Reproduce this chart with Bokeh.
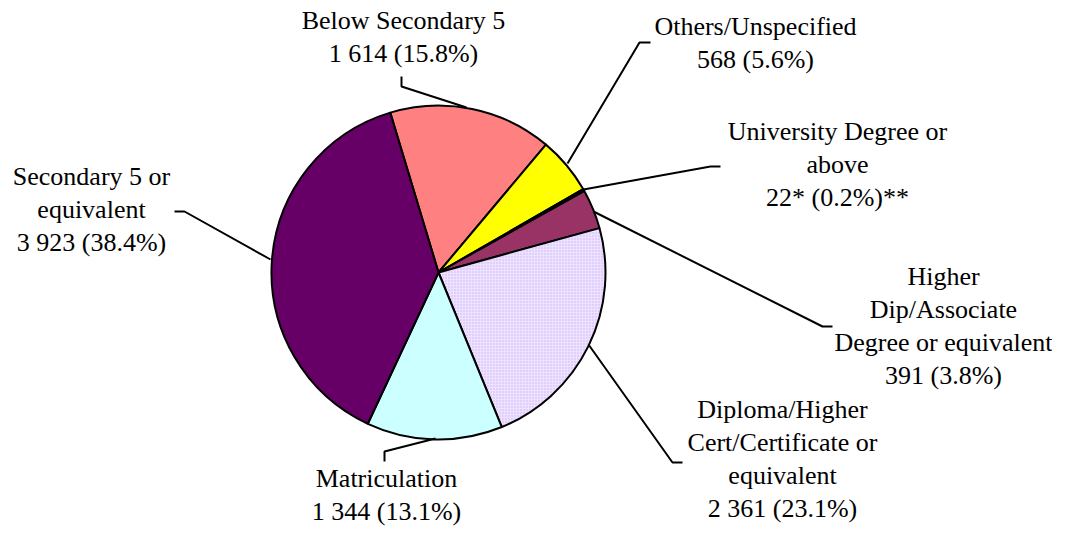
import math
from bokeh.plotting import figure
from bokeh.models import Range1d
from bokeh.core.properties import value
from bokeh.embed import file_html
from bokeh.resources import INLINE

# ---- data (clockwise order, starting from "Below Secondary 5") ----
categories = ["Below Secondary 5", "Others/Unspecified", "University Degree or above",
              "Higher Dip/Associate Degree or equivalent",
              "Diploma/Higher Cert/Certificate or equivalent",
              "Matriculation", "Secondary 5 or equivalent"]
counts = [1614, 568, 22, 391, 2361, 1344, 3923]
percents = [15.8, 5.6, 0.2, 3.8, 23.1, 13.1, 38.4]
count_notes = ["", "", "*", "", "", "", ""]
pct_notes = ["", "", "**", "", "", "", ""]
name_lines = [["Below Secondary 5"], ["Others/Unspecified"], ["University Degree or", "above"],
              ["Higher", "Dip/Associate", "Degree or equivalent"],
              ["Diploma/Higher", "Cert/Certificate or", "equivalent"],
              ["Matriculation"], ["Secondary 5 or", "equivalent"]]
colors = ["#FF8080", "#FFFF00", "#1A1A4D", "#993366", "#EEE2FF", "#CCFFFF", "#660066"]

# ---- layout (pixel coordinates) ----
DY = 4          # vertical shift so everything fits inside the canvas
TEXT_FIX = 8    # compensation for where the text baseline lands
cx, cy, R = 438, 276, 167
start_deg = -16.8  # clockwise from 12 o'clock
label_pos = [(403, 32), (755, 38), (837, 143), (943, 288), (782, 421), (386, 490), (91, 188)]
line_gap = 33
leaders = [
    [(401, 80), (401, 90), (466, 111)],
    [(650, 46), (639, 46), (567, 167)],
    [(720, 170), (710, 170), (583, 193)],
    [(832, 330), (822, 330), (593, 215)],
    [(682, 466), (672, 466), (588, 348)],
    [(384, 465), (384, 455), (435, 442)],
    [(174, 215), (184, 215), (270, 263)],
]

W, H = 1052, 527
p = figure(width=W, height=H, output_backend="svg", toolbar_location=None,
           x_range=Range1d(0, W), y_range=Range1d(-H, 0),
           x_axis_type=None, y_axis_type=None, min_border=0)
p.grid.visible = False
p.outline_line_color = None
p.background_fill_color = "white"

total = sum(counts)
starts, ends = [], []
acc = start_deg
for c in counts:
    a0 = acc
    a1 = acc + 360.0 * c / total
    starts.append(math.radians(90 - a0))
    ends.append(math.radians(90 - a1))
    acc = a1

for i in range(len(counts)):
    kw = {}
    if i == 4:
        kw = dict(hatch_pattern="dot", hatch_color="#C9B2F2", hatch_scale=3, hatch_weight=1)
    p.wedge(x=[cx], y=[-(cy - DY)], radius=R, start_angle=[starts[i]], end_angle=[ends[i]],
            direction="clock", fill_color=colors[i], line_color="black", line_width=2, **kw)

# leader lines
for path in leaders:
    p.line(x=[q[0] for q in path], y=[-(q[1] - DY) for q in path], line_color="black", line_width=2)

# labels
xs, ys, ts = [], [], []
for i in range(len(counts)):
    num = f"{counts[i]:,}".replace(",", " ")
    vline = f"{num}{count_notes[i]} ({percents[i]:.1f}%){pct_notes[i]}"
    lines = name_lines[i] + [vline]
    lx, ly = label_pos[i]
    for k, t in enumerate(lines):
        xs.append(lx)
        ys.append(-(ly - DY - TEXT_FIX + k * line_gap))
        ts.append(t)
p.text(x=xs, y=ys, text=ts, text_align="center", text_baseline="alphabetic",
       text_font=value("'Liberation Serif', 'Times New Roman', serif"), text_font_size="26px",
       text_color="black")

open("out.html", "w").write(file_html(p, INLINE))
